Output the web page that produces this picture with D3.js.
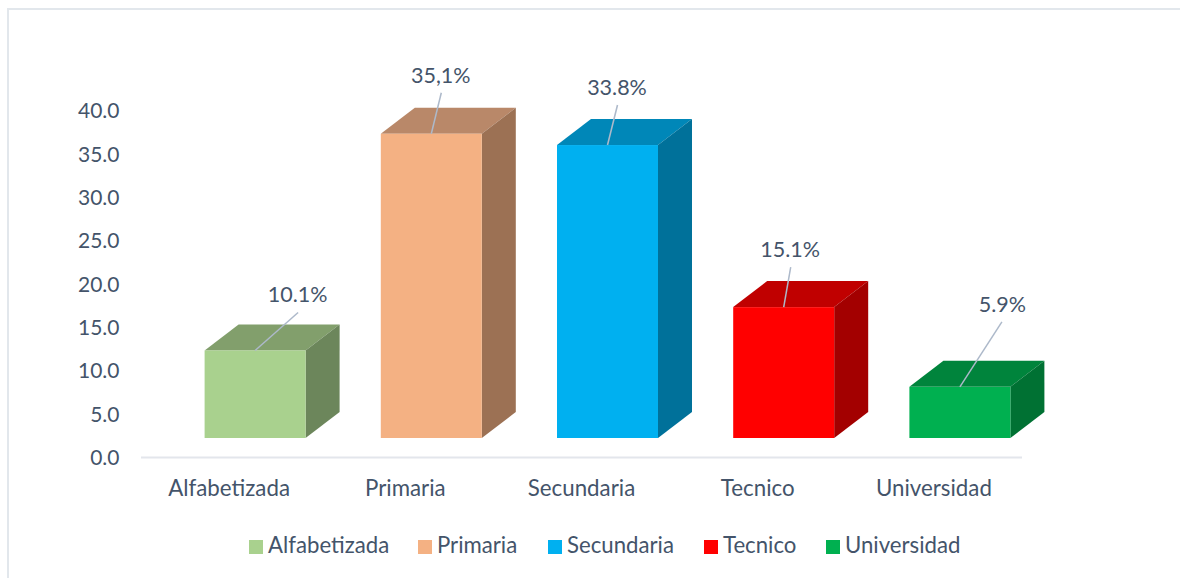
<!DOCTYPE html>
<html><head><meta charset="utf-8">
<script src="https://cdn.jsdelivr.net/npm/d3@7"></script>
<style>html,body{margin:0;padding:0;background:#fff}svg{display:block}</style>
</head><body><svg id="c" width="1180" height="578"></svg>
<script>
const categories = ["Alfabetizada","Primaria","Secundaria","Tecnico","Universidad"];
const values = [10.1,35.1,33.8,15.1,5.9];
const valueLabels = ["10.1%","35,1%","33.8%","15.1%","5.9%"];
const frontColors = ["#A9D18E","#F4B183","#00B0F0","#FF0000","#00B050"];
const topColors = ["#829F6C","#B98869","#0087B8","#C00000","#00843C"];
const sideColors = ["#6C865B","#9C7154","#00719A","#A30000","#007133"];
const ticks = [0,5,10,15,20,25,30,35,40];
const leaderDx = [43,10,10,7,42];
const leaderDy = [-38,-41,-40,-40,-65];
const labelAnchorDx = [43,10,10,7,43];
const legendX = [249,418,548,704,826];

const txt = "#44546A", font = "Lato, sans-serif";
const svg = d3.select("#c");
svg.append("rect").attr("x",8).attr("y",9).attr("width",1300).attr("height",700)
  .attr("fill","#fff").attr("stroke","#E2E7EC").attr("stroke-width",2);

const y = d3.scaleLinear().domain([0,40]).range([457.5,110.8]);
const x = d3.scaleBand().domain(categories).range([141,1022]);
const barW = 101, shift = 26, lift = 19.5, dx = 34, dy = 26;
const g = svg.append("g");

const yAxis = d3.axisLeft(y).tickValues(ticks).tickFormat(d3.format(".1f")).tickSize(0).tickPadding(0);
const ya = svg.append("g").attr("transform","translate(119.5,0)").call(yAxis);
ya.select(".domain").remove();
ya.selectAll("text").attr("fill",txt).attr("font-family",font).attr("font-size",21).attr("dy","0.34em");

svg.append("line").attr("x1",x.range()[0]).attr("x2",x.range()[1]).attr("y1",y(0)).attr("y2",y(0))
  .attr("stroke","#E3E6EC").attr("stroke-width",2);

const xAxis = d3.axisBottom(x).tickSize(0).tickPadding(0);
const xa = svg.append("g").attr("transform","translate(0,488.5)").call(xAxis);
xa.select(".domain").remove();
xa.selectAll("text").attr("fill",txt).attr("font-family",font).attr("font-size",22.3).attr("dy","0.34em");

categories.forEach((c,i)=>{
  const cx = x(c)+x.bandwidth()/2+shift, l = cx-barW/2, r = cx+barW/2, b = y(0)-lift, t = y(values[i])-lift;
  const poly = p => g.append("polygon").attr("points",p.map(q=>q.join(",")).join(" "));
  poly([[l,t],[l+dx,t-dy],[r+dx,t-dy],[r,t]]).attr("fill",topColors[i]);
  poly([[r,t],[r+dx,t-dy],[r+dx,b-dy],[r,b]]).attr("fill",sideColors[i]);
  g.append("rect").attr("x",l).attr("y",t).attr("width",barW).attr("height",b-t).attr("fill",frontColors[i]);
  g.append("line").attr("x1",cx).attr("y1",t).attr("x2",cx+leaderDx[i]).attr("y2",t+leaderDy[i])
    .attr("stroke","#ADB9CA").attr("stroke-width",1.5);
  g.append("text").attr("x",cx+labelAnchorDx[i]-0.5).attr("y",t+leaderDy[i]-10).attr("text-anchor","middle")
    .attr("fill",txt).attr("font-family",font).attr("font-size",21.5).text(valueLabels[i]);
});

const lg = svg.append("g");
categories.forEach((c,i)=>{
  lg.append("rect").attr("x",legendX[i]).attr("y",540).attr("width",14).attr("height",14).attr("fill",frontColors[i]);
  lg.append("text").attr("x",legendX[i]+19).attr("y",552.5).attr("fill",txt).attr("font-family",font).attr("font-size",22.2).text(c);
});
</script></body></html>
